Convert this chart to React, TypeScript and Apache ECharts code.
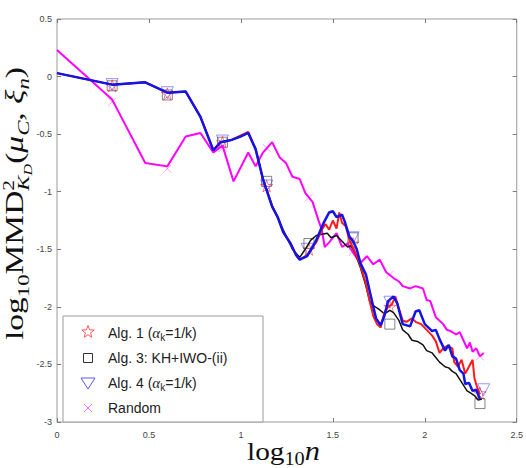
import React, { useEffect, useRef } from "react";
import * as echarts from "echarts";

// ---- data: [log10 n, log10 MMD^2] ----
const alg1Line: [number, number][] = [
  [0, 0.03], [0.3, -0.07], [0.48, -0.05], [0.6, -0.14], [0.7, -0.13], [0.78, -0.35],
  [0.85, -0.64], [0.89, -0.57], [0.95, -0.55], [1.0, -0.51], [1.04, -0.48], [1.08, -0.63],
  [1.12, -0.89], [1.17, -1.13], [1.2, -1.22], [1.23, -1.35], [1.27, -1.45], [1.3, -1.55],
  [1.32, -1.59], [1.36, -1.55], [1.39, -1.48], [1.41, -1.44], [1.44, -1.33], [1.46, -1.28],
  [1.48, -1.33], [1.5, -1.25], [1.52, -1.32], [1.535, -1.18], [1.55, -1.27], [1.57, -1.3],
  [1.59, -1.42], [1.62, -1.52], [1.65, -1.64], [1.68, -1.8], [1.7, -1.95], [1.72, -2.08],
  [1.74, -2.15], [1.76, -2.18], [1.78, -2.05], [1.8, -2.0], [1.82, -1.98], [1.84, -1.91],
  [1.86, -2.02], [1.88, -2.12], [1.9, -2.13], [1.93, -2.1], [1.95, -2.13], [1.98, -2.15],
  [2.01, -2.2], [2.04, -2.25], [2.06, -2.3], [2.08, -2.4], [2.1, -2.36], [2.12, -2.34],
  [2.15, -2.36], [2.16, -2.48], [2.18, -2.52], [2.2, -2.46], [2.22, -2.58], [2.24, -2.52],
  [2.26, -2.46], [2.27, -2.62], [2.285, -2.7], [2.3, -2.76],
];

const alg3Line: [number, number][] = [
  [0, 0.03], [0.3, -0.07], [0.48, -0.05], [0.6, -0.14], [0.7, -0.13], [0.78, -0.35],
  [0.85, -0.64], [0.89, -0.57], [0.95, -0.55], [1.0, -0.52], [1.04, -0.49], [1.08, -0.63],
  [1.12, -0.89], [1.17, -1.12], [1.23, -1.33], [1.28, -1.5], [1.32, -1.57], [1.35, -1.5],
  [1.38, -1.42], [1.41, -1.38], [1.44, -1.37], [1.47, -1.36], [1.49, -1.4], [1.52, -1.38],
  [1.55, -1.43], [1.58, -1.48], [1.6, -1.47], [1.62, -1.53], [1.65, -1.66], [1.68, -1.82],
  [1.7, -1.95], [1.72, -1.99], [1.75, -2.02], [1.78, -2.06], [1.81, -2.03], [1.83, -2.05],
  [1.86, -2.12], [1.88, -2.2], [1.91, -2.24], [1.93, -2.29], [1.96, -2.3], [1.99, -2.33],
  [2.01, -2.38], [2.04, -2.4], [2.06, -2.44], [2.08, -2.48], [2.11, -2.52], [2.13, -2.53],
  [2.15, -2.56], [2.17, -2.58], [2.19, -2.63], [2.21, -2.68], [2.23, -2.73], [2.25, -2.75],
  [2.27, -2.77], [2.29, -2.81], [2.31, -2.8],
];

const alg4Line: [number, number][] = [
  [0, 0.03], [0.3, -0.07], [0.48, -0.05], [0.6, -0.14], [0.7, -0.13], [0.78, -0.35],
  [0.85, -0.64], [0.89, -0.57], [0.95, -0.55], [1.0, -0.52], [1.04, -0.49], [1.08, -0.63],
  [1.12, -0.89], [1.17, -1.13], [1.2, -1.22], [1.23, -1.35], [1.27, -1.45], [1.3, -1.55],
  [1.32, -1.59], [1.36, -1.56], [1.39, -1.48], [1.41, -1.42], [1.45, -1.27], [1.48, -1.18],
  [1.5, -1.17], [1.52, -1.22], [1.55, -1.2], [1.565, -1.26], [1.59, -1.39], [1.61, -1.43],
  [1.63, -1.5], [1.65, -1.62], [1.68, -1.72], [1.7, -1.86], [1.72, -2.0], [1.735, -2.1],
  [1.76, -2.16], [1.78, -2.08], [1.8, -1.95], [1.83, -1.91], [1.85, -1.97], [1.88, -2.15],
  [1.92, -2.17], [1.95, -2.04], [1.97, -2.03], [2.0, -2.15], [2.04, -2.21], [2.06, -2.2],
  [2.08, -2.28], [2.11, -2.38], [2.13, -2.33], [2.15, -2.43], [2.17, -2.45], [2.19, -2.55],
  [2.21, -2.58], [2.22, -2.67], [2.24, -2.66], [2.26, -2.73], [2.28, -2.72], [2.3, -2.8],
];

const randomLine: [number, number][] = [
  [0, 0.23], [0.3, -0.2], [0.48, -0.75], [0.6, -0.78], [0.7, -0.52], [0.78, -0.49],
  [0.85, -0.66], [0.9, -0.6], [0.96, -0.91], [1.04, -0.66], [1.08, -0.78], [1.12, -0.66],
  [1.17, -0.57], [1.21, -0.7], [1.245, -0.75], [1.28, -0.87], [1.32, -0.89], [1.35, -1.01],
  [1.39, -1.09], [1.42, -1.24], [1.44, -1.33], [1.456, -1.48], [1.48, -1.44], [1.52, -1.36],
  [1.55, -1.48], [1.58, -1.45], [1.61, -1.53], [1.65, -1.62], [1.685, -1.56], [1.72, -1.63],
  [1.755, -1.59], [1.79, -1.7], [1.83, -1.75], [1.86, -1.78], [1.88, -1.82], [1.92, -1.84],
  [1.95, -1.82], [1.99, -1.84], [2.01, -1.94], [2.03, -1.95], [2.06, -2.09], [2.1, -2.15],
  [2.12, -2.2], [2.14, -2.21], [2.17, -2.24], [2.19, -2.22], [2.21, -2.29], [2.23, -2.36],
  [2.245, -2.31], [2.26, -2.39], [2.28, -2.36], [2.3, -2.43], [2.32, -2.4],
];

// marker positions along each curve
const alg1Marks: [number, number][] = [
  [0.3, -0.08], [0.6, -0.15], [0.9, -0.57], [1.14, -0.95], [1.37, -1.5], [1.61, -1.45], [1.81, -2.0], [2.3, -2.75],
];
const alg3Marks: [number, number][] = [
  [0.3, -0.08], [0.6, -0.16], [0.9, -0.57], [1.14, -0.91], [1.37, -1.45], [1.61, -1.4], [1.81, -2.15], [2.3, -2.84],
];
const alg4Marks: [number, number][] = [
  [0.3, -0.07], [0.6, -0.14], [0.9, -0.56], [1.14, -0.95], [1.36, -1.5], [1.61, -1.4], [1.81, -1.96], [2.32, -2.72],
];
const randomMarks: [number, number][] = [
  [0.3, -0.22], [0.6, -0.8], [0.9, -0.62], [1.14, -0.62], [1.37, -1.05], [1.61, -1.52], [1.81, -1.72], [2.3, -2.43],
];

const xTicks = { min: 0, max: 2.5, step: 0.5 };
const yTicks = { min: -3, max: 0.5, step: 0.5 };

const names = ["Alg. 1 (αk=1/k)", "Alg. 3: KH+IWO-(ii)", "Alg. 4 (αk=1/k)", "Random"];
const colors = ["#ff1a1a", "#111111", "#1414e6", "#ff00ff"];

const STAR = "path://M50,2 L61,36 L97,36 L68,57 L79,92 L50,70 L21,92 L32,57 L3,36 L39,36 Z";
const TRI = "path://M0,0 L10,0 L5,9 Z";
const CROSS = "path://M0,0 L10,10 M10,0 L0,10";

const SERIF = "'Liberation Serif', 'Times New Roman', serif";
const SANS = "'Liberation Sans', Arial, Helvetica, sans-serif";

function textWidth(text: string, font: string): number {
  const ctx = document.createElement("canvas").getContext("2d")!;
  ctx.font = font;
  return ctx.measureText(text).width;
}

type Piece = { text: string; size: number; italic?: boolean; dy: number; stackWith?: boolean };

// lay out a run of math-like text pieces horizontally in local coordinates
function layoutPieces(pieces: Piece[], color: string) {
  const out: any[] = [];
  let x = 0;
  let lastStart = 0;
  let lastAdvance = 0;
  for (const p of pieces) {
    const font = `${p.italic ? "italic " : ""}${p.size}px ${SERIF}`;
    const w = textWidth(p.text, font);
    let start = x;
    if (p.stackWith) {
      start = lastStart;
      const adv = Math.max(lastAdvance, w);
      x = lastStart + adv;
      lastAdvance = adv;
    } else {
      x += w;
      lastStart = start;
      lastAdvance = w;
    }
    out.push({
      type: "text",
      x: start,
      y: p.dy - p.size * 0.33,
      style: {
        text: p.text,
        font,
        fill: color,
        align: "left",
        verticalAlign: "middle",
      },
    });
  }
  return { children: out, width: x };
}

function starPoints(cx: number, cy: number, r: number): number[][] {
  const pts: number[][] = [];
  for (let i = 0; i < 10; i++) {
    const rr = i % 2 === 0 ? r : r * 0.42;
    const a = -Math.PI / 2 + (i * Math.PI) / 5;
    pts.push([cx + rr * Math.cos(a), cy + rr * Math.sin(a)]);
  }
  return pts;
}

export default function App() {
  const ref = useRef<HTMLDivElement>(null);

  useEffect(() => {
    if (!ref.current) return;
    const chart = echarts.init(ref.current, undefined, { renderer: "svg" });

    const axisCommon = {
      type: "value" as const,
      splitLine: { show: false },
      axisLine: { show: false, onZero: false },
      axisTick: { show: true, inside: true, length: 4, lineStyle: { color: "#7a7a7a", width: 1 } },
    };

    const lineSeries = (name: string, data: [number, number][], color: string, width: number, z: number) => ({
      name,
      type: "line",
      data,
      showSymbol: false,
      symbol: "none",
      lineStyle: { color, width },
      itemStyle: { color },
      z,
    });

    const markSeries = (name: string, data: [number, number][], color: string, symbol: string, size: number) => ({
      name,
      type: "scatter",
      data,
      symbol,
      symbolSize: size,
      itemStyle: { color: "transparent", borderColor: color, borderWidth: 1, opacity: 0.55 },
      z: 1,
    });

    // y axis title: log10 MMD^2_{K_D}(mu_C, xi_n), read bottom-to-top
    const yPieces: Piece[] = [
      { text: "log", size: 25, dy: 0 },
      { text: "10", size: 17, dy: 6 },
      { text: "MMD", size: 25, dy: 0 },
      { text: "2", size: 16, dy: -9 },
      { text: "K", size: 17, italic: true, dy: 6, stackWith: true },
      { text: "D", size: 12, italic: true, dy: 9 },
      { text: "(", size: 25, dy: 0 },
      { text: "μ", size: 25, italic: true, dy: 0 },
      { text: "C", size: 17, italic: true, dy: 6 },
      { text: ", ", size: 25, dy: 0 },
      { text: "ξ", size: 25, italic: true, dy: 0 },
      { text: "n", size: 17, italic: true, dy: 6 },
      { text: ")", size: 25, dy: 0 },
    ];
    const yTitle = layoutPieces(yPieces, "#111");
    const yScale = 273 / yTitle.width;

    const xPieces: Piece[] = [
      { text: "log", size: 26, dy: 0 },
      { text: "10", size: 18, dy: 5 },
      { text: "n", size: 27, italic: true, dy: 0 },
    ];
    const xTitle = layoutPieces(xPieces, "#111");
    const xScale = 73 / xTitle.width;

    // legend
    const legX = 63, legY = 316, legW = 200, legH = 106;
    const rowY = [333, 358, 383, 408];
    const iconX = 88;
    const textX = 108;
    const rich = {
      a: { fontFamily: SANS, fontSize: 14, fill: "#222", lineHeight: 18, verticalAlign: "middle" },
      g: { fontFamily: SERIF, fontSize: 15, fontStyle: "italic", fill: "#222", lineHeight: 18, verticalAlign: "middle" },
      s: { fontFamily: SANS, fontSize: 10, fill: "#222", lineHeight: 9, verticalAlign: "bottom" },
    };
    const legendTexts = [
      "{a|Alg. 1 (}{g|α}{s|k}{a|=1/k)}",
      "{a|Alg. 3: KH+IWO-(ii)}",
      "{a|Alg. 4 (}{g|α}{s|k}{a|=1/k)}",
      "{a|Random}",
    ];

    const legendGraphics: any[] = [
      {
        type: "rect",
        shape: { x: legX, y: legY, width: legW, height: legH },
        style: { fill: "#fff", stroke: "#9a9a9a", lineWidth: 1 },
        z: 100,
      },
      {
        type: "polygon",
        shape: { points: starPoints(iconX, rowY[0] - 1, 6.5) },
        style: { fill: "none", stroke: colors[0], lineWidth: 1, opacity: 0.7 },
        z: 101,
      },
      {
        type: "rect",
        shape: { x: iconX - 4.5, y: rowY[1] - 4.5, width: 9, height: 9 },
        style: { fill: "none", stroke: "#333", lineWidth: 1 },
        z: 101,
      },
      {
        type: "polygon",
        shape: { points: [[iconX - 7, rowY[2] - 5], [iconX + 7, rowY[2] - 5], [iconX, rowY[2] + 6]] },
        style: { fill: "none", stroke: "#5a5aff", lineWidth: 1 },
        z: 101,
      },
      {
        type: "line",
        shape: { x1: iconX - 4, y1: rowY[3] - 4, x2: iconX + 4, y2: rowY[3] + 4 },
        style: { stroke: "#ff77ff", lineWidth: 1 },
        z: 101,
      },
      {
        type: "line",
        shape: { x1: iconX + 4, y1: rowY[3] - 4, x2: iconX - 4, y2: rowY[3] + 4 },
        style: { stroke: "#ff77ff", lineWidth: 1 },
        z: 101,
      },
      ...legendTexts.map((t, i) => ({
        type: "text",
        x: textX,
        y: rowY[i],
        z: 101,
        style: { text: t, rich, align: "left", verticalAlign: "middle" },
      })),
    ];

    chart.setOption({
      animation: false,
      backgroundColor: "#fff",
      grid: {
        left: 57,
        top: 19,
        right: 9,
        bottom: 46,
        show: true,
        borderColor: "#9a9a9a",
        borderWidth: 1,
        backgroundColor: "transparent",
      },
      xAxis: [
        {
          ...axisCommon,
          position: "bottom",
          min: xTicks.min,
          max: xTicks.max,
          interval: xTicks.step,
          axisLabel: { fontSize: 9, color: "#444", fontFamily: SANS, margin: 8, formatter: (v: number) => String(v) },
        },
        {
          ...axisCommon,
          position: "top",
          min: xTicks.min,
          max: xTicks.max,
          interval: xTicks.step,
          axisLabel: { show: false },
        },
      ],
      yAxis: [
        {
          ...axisCommon,
          position: "left",
          min: yTicks.min,
          max: yTicks.max,
          interval: yTicks.step,
          axisLabel: { fontSize: 9, color: "#444", fontFamily: SANS, margin: 5, formatter: (v: number) => String(v) },
        },
        {
          ...axisCommon,
          position: "right",
          min: yTicks.min,
          max: yTicks.max,
          interval: yTicks.step,
          axisLabel: { show: false },
        },
      ],
      series: [
        markSeries(names[3], randomMarks, "#ff55ff", CROSS, 8),
        markSeries(names[1], alg3Marks, "#222", "rect", 10),
        markSeries(names[0], alg1Marks, colors[0], STAR, 12),
        markSeries(names[2], alg4Marks, "#4040ff", TRI, 12),
        lineSeries(names[3], randomLine, colors[3], 2, 2),
        lineSeries(names[1], alg3Line, colors[1], 1.5, 3),
        lineSeries(names[0], alg1Line, colors[0], 2, 4),
        lineSeries(names[2], alg4Line, colors[2], 2.5, 5),
      ],
      graphic: [
        {
          type: "group",
          x: 23,
          y: 340,
          rotation: Math.PI / 2,
          scaleX: yScale,
          children: yTitle.children,
        },
        {
          type: "group",
          x: 247,
          y: 460,
          scaleX: xScale,
          children: xTitle.children,
        },
        ...legendGraphics,
      ],
    });

    return () => chart.dispose();
  }, []);

  return (
    <div
      ref={ref}
      style={{ position: "fixed", left: 0, top: 0, width: 526, height: 468, background: "#fff" }}
    />
  );
}
